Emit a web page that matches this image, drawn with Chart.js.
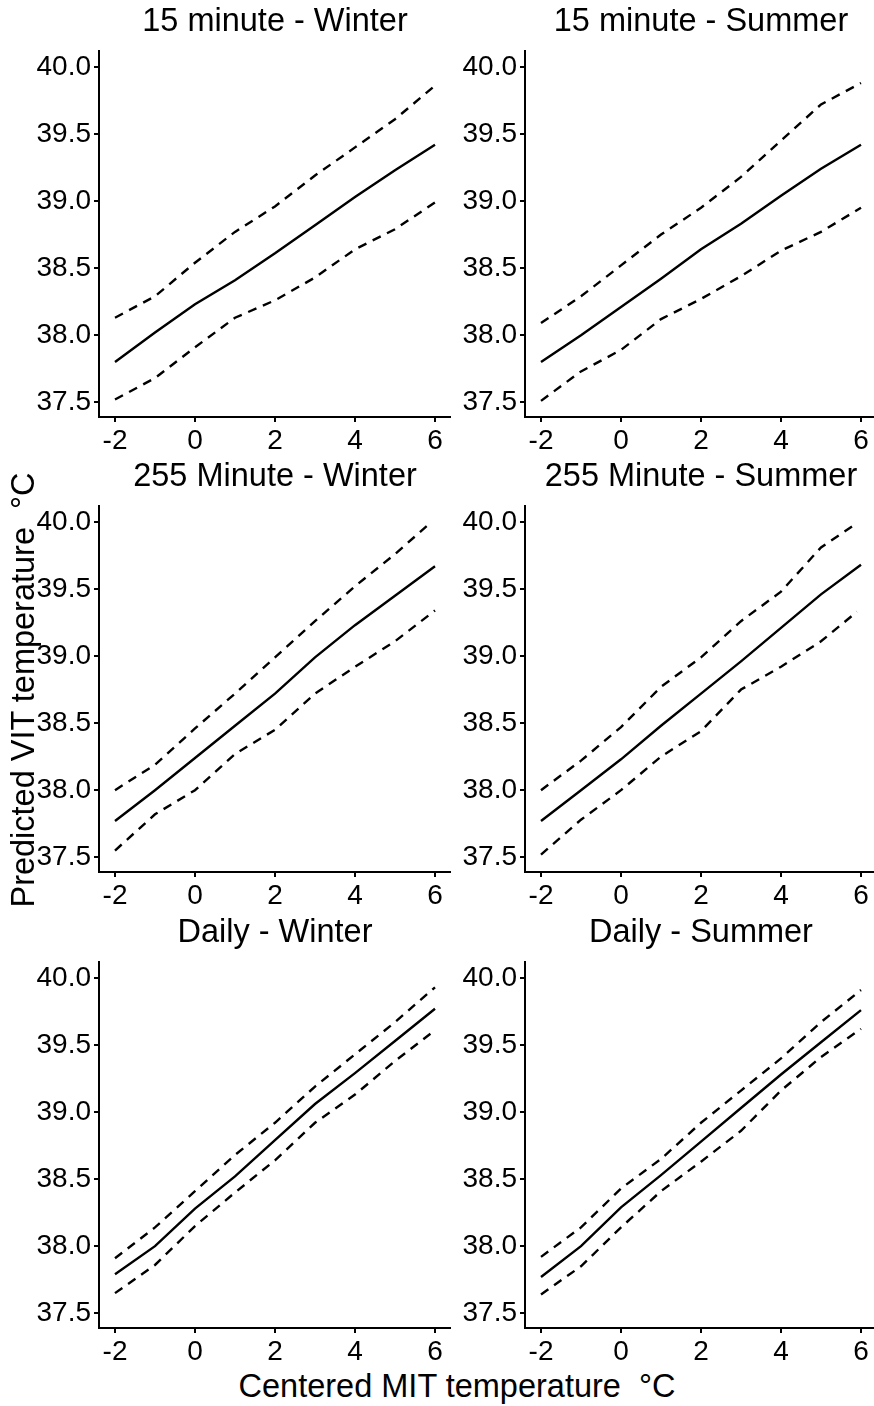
<!DOCTYPE html>
<html>
<head>
<meta charset="utf-8">
<script src="https://cdn.jsdelivr.net/npm/chart.js@4.4.1/dist/chart.umd.min.js"></script>
<style>
  html, body {
    margin: 0; padding: 0; background: #fff;
    width: 874px; height: 1406px; overflow: hidden; position: relative;
    font-family: "Liberation Sans", Arial, sans-serif; color: #000;
  }
  canvas { position: absolute; }
  .label {
    position: absolute; font-size: 32.5px; line-height: 32px;
    white-space: pre; text-align: center; color: #000;
  }
</style>
</head>
<body>
<script>
// Panel titles, in reading order (row by row)
const panelTitles = [
  "15 minute - Winter", "15 minute - Summer",
  "255 Minute - Winter", "255 Minute - Summer",
  "Daily - Winter", "Daily - Summer"
];

// Centered MIT temperature (°C) at which predictions are shown
const xValues = [-2, -1, 0, 1, 2, 3, 4, 5, 6];
const xBand255Upper = [-2, -1, 0, 1, 2, 3, 4, 5, 5.8];
const xBand255Lower = [-2, -1, 0, 1, 2, 3, 4, 5, 5.9];

// Axis ticks
const xTicks = [-2, 0, 2, 4, 6];
const yTicks = [37.5, 38.0, 38.5, 39.0, 39.5, 40.0];

// 15 minute - Winter
const fit15W   = [37.80, 38.02, 38.23, 38.41, 38.61, 38.82, 39.03, 39.23, 39.42];
const upper15W = [38.13, 38.29, 38.54, 38.77, 38.96, 39.19, 39.40, 39.61, 39.86];
const lower15W = [37.52, 37.68, 37.91, 38.13, 38.26, 38.43, 38.64, 38.79, 38.99];

// 15 minute - Summer
const fit15S   = [37.80, 38.00, 38.21, 38.42, 38.64, 38.83, 39.04, 39.24, 39.42];
const upper15S = [38.09, 38.29, 38.52, 38.75, 38.95, 39.18, 39.45, 39.72, 39.88];
const lower15S = [37.51, 37.73, 37.89, 38.12, 38.27, 38.44, 38.63, 38.77, 38.95];

// 255 Minute - Winter
const fit255W   = [37.77, 38.00, 38.24, 38.48, 38.72, 38.99, 39.23, 39.45, 39.67];
const upper255W = [38.00, 38.19, 38.46, 38.72, 38.99, 39.26, 39.52, 39.76, 39.97];
const lower255W = [37.55, 37.82, 38.00, 38.27, 38.45, 38.72, 38.92, 39.11, 39.34];

// 255 Minute - Summer
const fit255S   = [37.77, 38.00, 38.23, 38.48, 38.72, 38.96, 39.21, 39.46, 39.68];
const upper255S = [38.00, 38.22, 38.47, 38.77, 38.99, 39.26, 39.48, 39.81, 39.97];
const lower255S = [37.52, 37.78, 38.00, 38.25, 38.44, 38.75, 38.92, 39.11, 39.33];

// Daily - Winter
const fitDW   = [37.79, 38.00, 38.28, 38.52, 38.79, 39.06, 39.29, 39.53, 39.77];
const upperDW = [37.91, 38.14, 38.41, 38.68, 38.92, 39.19, 39.43, 39.67, 39.93];
const lowerDW = [37.65, 37.86, 38.15, 38.40, 38.64, 38.92, 39.13, 39.38, 39.61];

// Daily - Summer
const fitDS   = [37.77, 38.00, 38.29, 38.53, 38.78, 39.03, 39.28, 39.52, 39.76];
const upperDS = [37.92, 38.14, 38.43, 38.65, 38.92, 39.16, 39.40, 39.67, 39.91];
const lowerDS = [37.64, 37.85, 38.14, 38.41, 38.63, 38.86, 39.16, 39.41, 39.62];

const panelSeries = [
  { fit: [xValues, fit15W],  upper: [xValues, upper15W],       lower: [xValues, lower15W] },
  { fit: [xValues, fit15S],  upper: [xValues, upper15S],       lower: [xValues, lower15S] },
  { fit: [xValues, fit255W], upper: [xBand255Upper, upper255W], lower: [xValues, lower255W] },
  { fit: [xValues, fit255S], upper: [xBand255Upper, upper255S], lower: [xBand255Lower, lower255S] },
  { fit: [xValues, fitDW],   upper: [xValues, upperDW],        lower: [xValues, lowerDW] },
  { fit: [xValues, fitDS],   upper: [xValues, upperDS],        lower: [xValues, lowerDS] }
];

const FONT = '"Liberation Sans", Arial, sans-serif';

// Grid geometry: columns hold the y-axis line position, rows the plot top
const columns = [
  { left: 0,   width: 451, axisWidth: 99 },
  { left: 430, width: 447, axisWidth: 95 }
];
const rowTops = [31, 486, 942];
const PAD_TOP = 10, PLOT_H = 376, X_AXIS_H = 40;

function toPoints(pair) {
  const xs = pair[0], ys = pair[1];
  return xs.map((x, i) => ({ x: x, y: ys[i] }));
}

function addLabel(text, css) {
  const d = document.createElement('div');
  d.className = 'label';
  d.textContent = text;
  Object.assign(d.style, css);
  document.body.appendChild(d);
  return d;
}

const axisStyle = {
  grid: { display: true, drawOnChartArea: false, drawTicks: true, tickLength: 5, color: '#000', lineWidth: 2 },
  border: { display: true, color: '#000', width: 2 }
};

panelSeries.forEach((s, i) => {
  const col = columns[i % 2];
  const top = rowTops[Math.floor(i / 2)];
  const h = PAD_TOP + PLOT_H + X_AXIS_H;

  const cv = document.createElement('canvas');
  cv.width = col.width; cv.height = h;
  cv.style.left = col.left + 'px'; cv.style.top = top + 'px';
  cv.style.width = col.width + 'px'; cv.style.height = h + 'px';
  document.body.appendChild(cv);

  const lineBase = { borderColor: '#000', borderWidth: 2.4, pointRadius: 0, fill: false, tension: 0, borderCapStyle: 'butt' };

  new Chart(cv.getContext('2d'), {
    type: 'line',
    data: {
      datasets: [
        Object.assign({ data: toPoints(s.upper), borderDash: [9, 7] }, lineBase),
        Object.assign({ data: toPoints(s.fit) }, lineBase),
        Object.assign({ data: toPoints(s.lower), borderDash: [9, 7] }, lineBase)
      ]
    },
    options: {
      responsive: false, animation: false, events: [],
      layout: { padding: { top: PAD_TOP, right: 0, bottom: 0, left: 0 } },
      plugins: { legend: { display: false }, title: { display: false }, tooltip: { enabled: false } },
      scales: {
        x: Object.assign({
          type: 'linear', min: -2.4, max: 6.4,
          afterBuildTicks: sc => { sc.ticks = xTicks.map(v => ({ value: v })); },
          afterFit: sc => { sc.height = X_AXIS_H; },
          ticks: { color: '#000', font: { size: 28, family: FONT }, padding: 2, maxRotation: 0, autoSkip: false,
                   callback: v => String(v) }
        }, axisStyle),
        y: Object.assign({
          type: 'linear', min: 37.39, max: 40.12,
          afterBuildTicks: sc => { sc.ticks = yTicks.map(v => ({ value: v })); },
          afterFit: sc => { sc.width = col.axisWidth; },
          ticks: { color: '#000', font: { size: 28, family: FONT }, padding: 3, autoSkip: false,
                   callback: v => Number(v).toFixed(1) }
        }, axisStyle)
      }
    }
  });

  // panel heading centred over the plotting area
  const plotLeft = col.left + col.axisWidth;
  const centre = plotLeft + (col.width - col.axisWidth) / 2;
  addLabel(panelTitles[i], { left: (centre - 250) + 'px', top: (top + PAD_TOP - 37.5) + 'px', width: '500px' });
});

// shared axis titles
addLabel('Centered MIT temperature  \u00B0C', { left: '157px', top: '1370px', width: '600px' });
addLabel('Predicted VIT temperature  \u00B0C', {
  left: (23 - 300) + 'px', top: (690 - 16) + 'px', width: '600px',
  transform: 'rotate(-90deg)', transformOrigin: '50% 50%'
});
</script>
</body>
</html>
